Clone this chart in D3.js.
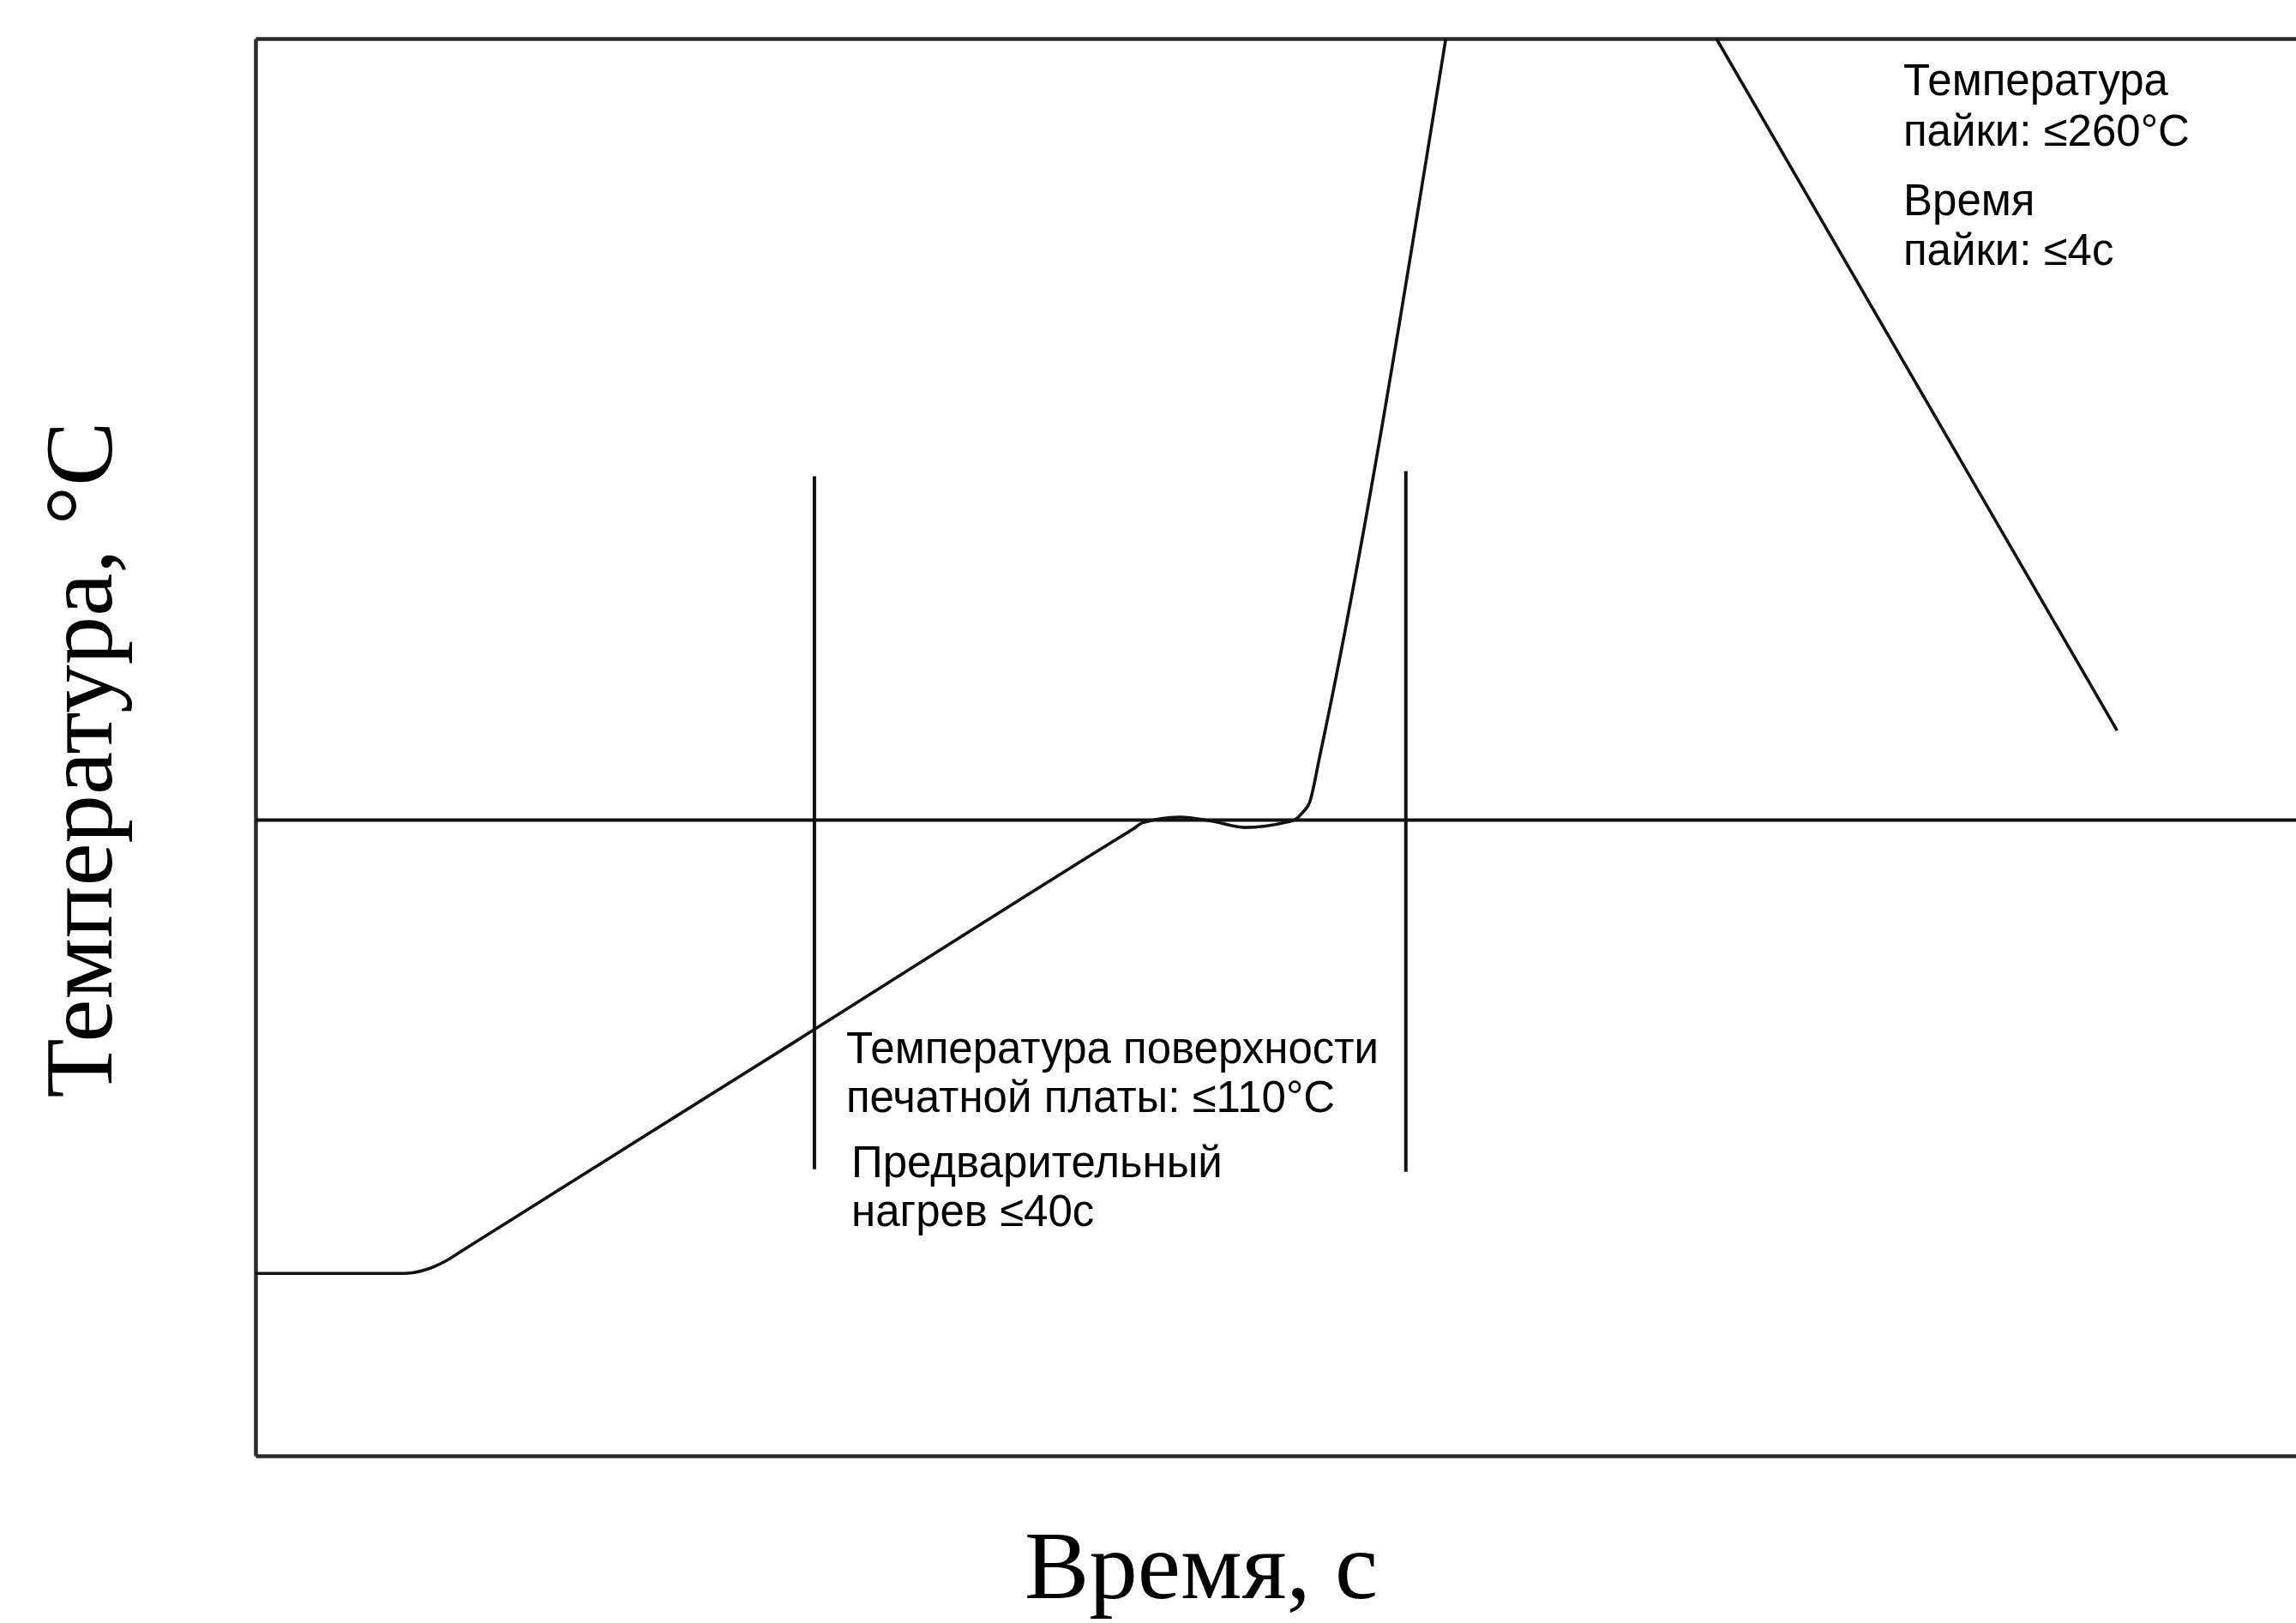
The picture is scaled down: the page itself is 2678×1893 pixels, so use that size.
<!DOCTYPE html>

<head>
  <meta charset="utf-8">
  <script src="https://d3js.org/d3.v7.min.js"></script>
  <style>
    body { margin: 0; background: #fff; }
    .note { font-family: "Liberation Sans", Arial, sans-serif; font-size: 51px; fill: #000; }
    .axis-title { font-family: "Liberation Serif", "Times New Roman", serif; font-size: 113px; fill: #000; }
    .frame path { stroke: #2a2a2a; stroke-width: 4.5px; }
  </style>
</head>

<body>
  <script>
    // outer size of the picture
    var outerWidth = 2678,
      outerHeight = 1893;

    // the box has no right border, it runs to the edge
    var margin = { top: 45, left: 298, right: 0, bottom: 195 };
    var width = outerWidth - margin.left - margin.right,
      height = outerHeight - margin.top - margin.bottom;

    // time in s, temperature in °C (no tick labels on the original)
    var timeDomain = [0, 138];
    var tempDomain = [-12, 260];

    // soldering profile: [time, temperature]
    var heatingCurve = [
      [0, 23], [10, 23], [11.5, 23.7], [13, 25.6], [14, 27.4], [36.5, 67.5],
      [58.5, 106.8], [59.3, 108.2], [60, 109.5],
      [62.5, 110.6], [64.7, 109.8], [66.9, 108.6], [69.7, 109.6], [70.3, 110.1],
      [70.8, 111.4], [71.3, 113.5], [72, 122.6], [80.5, 260]
    ];
    var coolingCurve = [[98.8, 260], [125.9, 127.2]];

    // PCB surface limit and the preheat window (≤40 s)
    var pcbLimit = 110;
    var preheatTimes = [37.8, 77.8];
    var preheatFrom = [43, 42.5];
    var preheatTo = [176, 177];

    // annotation texts
    var solderNote = ['Температура', 'пайки: ≤260°C', 'Время', 'пайки: ≤4с'];
    var preheatNote = ['Температура поверхности', 'печатной платы: ≤110°C', 'Предварительный', 'нагрев ≤40с'];
    var xTitle = 'Время, с';
    var yTitle = 'Температура, °C';

    var xScale = d3.scaleLinear().domain(timeDomain).range([0, width]);
    var yScale = d3.scaleLinear().domain(tempDomain).range([height, 0]);

    var svg = d3.select('body')
      .append('svg')
      .attr('width', outerWidth)
      .attr('height', outerHeight)
      .style('display', 'block');

    var g = svg.append('g')
      .attr('transform', 'translate(' + margin.left + ' ' + margin.top + ')');

    // frame: left, top and bottom axes without ticks
    g.append('g').attr('class', 'frame')
      .call(d3.axisLeft(yScale).tickValues([]).tickSizeOuter(0));
    g.append('g').attr('class', 'frame')
      .call(d3.axisTop(xScale).tickValues([]).tickSizeOuter(0));
    g.append('g').attr('class', 'frame')
      .attr('transform', 'translate(0 ' + height + ')')
      .call(d3.axisBottom(xScale).tickValues([]).tickSizeOuter(0));

    // 110 °C line across the whole box
    g.append('line')
      .attr('x1', xScale(timeDomain[0]))
      .attr('x2', xScale(timeDomain[1]))
      .attr('y1', yScale(pcbLimit))
      .attr('y2', yScale(pcbLimit))
      .attr('stroke', '#111')
      .attr('stroke-width', 4);

    // preheat window markers
    g.selectAll('.marker')
      .data(preheatTimes)
      .enter()
      .append('line')
      .attr('class', 'marker')
      .attr('x1', function(d) { return xScale(d); })
      .attr('x2', function(d) { return xScale(d); })
      .attr('y1', function(d, i) { return yScale(preheatTo[i]); })
      .attr('y2', function(d, i) { return yScale(preheatFrom[i]); })
      .attr('stroke', '#111')
      .attr('stroke-width', 4);

    var line = d3.line()
      .x(function(d) { return xScale(d[0]); })
      .y(function(d) { return yScale(d[1]); })
      .curve(d3.curveMonotoneX);

    g.selectAll('.profile')
      .data([heatingCurve, coolingCurve])
      .enter()
      .append('path')
      .attr('class', 'profile')
      .attr('d', line)
      .attr('fill', 'none')
      .attr('stroke', '#111')
      .attr('stroke-width', 3.6);

    // notes
    var solderY = [66, 125, 206, 264];
    g.append('text')
      .attr('class', 'note')
      .selectAll('tspan')
      .data(solderNote)
      .enter()
      .append('tspan')
      .attr('x', 1922)
      .attr('y', function(d, i) { return solderY[i]; })
      .text(function(d) { return d; });

    var preheatY = [1195, 1252, 1328, 1385];
    g.append('text')
      .attr('class', 'note')
      .selectAll('tspan')
      .data(preheatNote)
      .enter()
      .append('tspan')
      .attr('x', function(d, i) { return i < 2 ? 689 : 695; })
      .attr('y', function(d, i) { return preheatY[i]; })
      .text(function(d) { return d; });

    // axis titles
    svg.append('text')
      .attr('class', 'axis-title')
      .attr('x', 1195)
      .attr('y', 1864)
      .text(xTitle);

    svg.append('text')
      .attr('class', 'axis-title')
      .attr('text-anchor', 'middle')
      .attr('transform', 'translate(130 886) rotate(-90)')
      .text(yTitle);
  </script>
</body>
